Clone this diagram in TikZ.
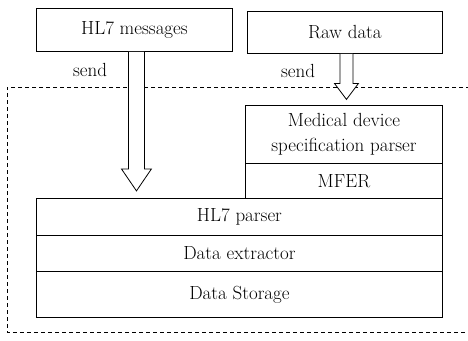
\documentclass[tikz,border=0pt]{standalone}
\usetikzlibrary{calc}
\newcommand{\harrow}[5]{% start, length, head length, shaft half width, head half width
  \draw[arrowline] ($(#1)+(-#4,0)$) -- ++(0,{#2-#3}) -- ++({#4-#5},0) -- ($(#1)+(0,#2)$)
    -- ($(#1)+(#5,{#2-#3})$) -- ++({#4-#5},0) -- ($(#1)+(#4,0)$);}
\begin{document}
\begin{tikzpicture}[x=1pt,y=-1pt,
  font=\fontsize{19}{25}\selectfont,
  box/.style={draw, line width=0.9pt, inner sep=0pt, anchor=north west, align=center},
  arrowline/.style={draw, fill=white, line width=0.8pt, line join=miter},
  frame/.style={draw, line width=0.7pt, dash pattern=on 4pt off 3pt}]
\useasboundingbox (0,0) rectangle (468,340);
% dashed system boundary (open to the right)
\coordinate (ftr) at (470,87);
\coordinate (ftl) at (7,87);
\coordinate (fbl) at (7,332);
\coordinate (fbr) at (470,332);
\draw[frame] (ftr) -- (ftl) -- (fbl) -- (fbr);
% top sources
\node[box, minimum width=196pt, minimum height=43pt] (hl7) at (36,8) {HL7 messages};
\node[box, minimum width=195pt, minimum height=42pt] (raw) at (247,11) {Raw data};
% right stack
\node[box, minimum width=197pt, minimum height=58pt] (med) at (245,105) {Medical device\\specification parser};
\node[box, minimum width=197pt, minimum height=35pt] (mfer) at (245,163) {MFER};
% bottom stack
\node[box, minimum width=406pt, minimum height=37pt] (parser) at (36,198) {HL7 parser};
\node[box, minimum width=406pt, minimum height=36pt] (extr) at (36,235) {Data extractor};
\node[box, minimum width=406pt, minimum height=46pt] (stor) at (36,271) {Data Storage};
% hollow arrows
\coordinate (s1) at ($(hl7.south)+(2,0)$);
\coordinate (s2) at ($(raw.south)+(1.5,0)$);
\harrow{s1}{139}{22}{8}{15}
\harrow{s2}{45.5}{16}{6.5}{12}
% labels
\node (send1) at (90,70) {send};
\node (send2) at (298,71) {send};
\end{tikzpicture}
\end{document}
